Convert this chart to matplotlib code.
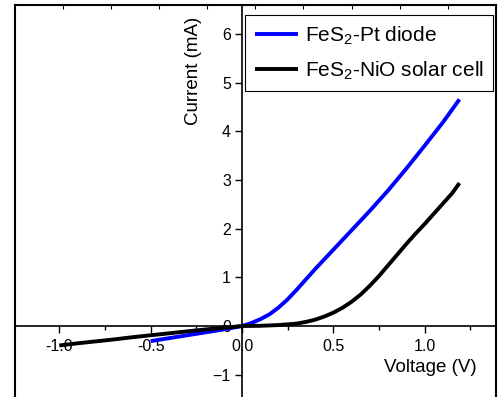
import matplotlib
matplotlib.use('Agg')
import matplotlib.pyplot as plt
from matplotlib.ticker import MultipleLocator, FormatStrFormatter

plt.rcParams['font.family'] = ['Liberation Sans', 'DejaVu Sans']
plt.rcParams['mathtext.fontset'] = 'custom'
plt.rcParams['mathtext.rm'] = 'Liberation Sans'

# FeS2-Pt diode
v_pt = [-0.5, -0.4, -0.3, -0.2, -0.1, 0.0, 0.05, 0.1, 0.15, 0.2, 0.25, 0.3,
        0.35, 0.4, 0.45, 0.5, 0.55, 0.6, 0.7, 0.75, 0.8, 0.9, 1.0, 1.1, 1.19]
i_pt = [-0.31, -0.25, -0.19, -0.13, -0.07, 0.0, 0.06, 0.14, 0.24, 0.38, 0.55, 0.75,
        0.96, 1.17, 1.37, 1.57, 1.77, 1.97, 2.37, 2.58, 2.79, 3.24, 3.71, 4.19, 4.66]

# FeS2-NiO solar cell
v_nio = [-1.0, -0.9, -0.8, -0.7, -0.6, -0.5, -0.4, -0.3, -0.2, -0.1, 0.0, 0.1, 0.2,
         0.3, 0.35, 0.4, 0.45, 0.5, 0.55, 0.6, 0.65, 0.7, 0.75, 0.8, 0.85, 0.9,
         0.95, 1.0, 1.05, 1.1, 1.15, 1.19]
i_nio = [-0.40, -0.355, -0.315, -0.275, -0.23, -0.19, -0.15, -0.11, -0.07, -0.035, 0.0,
         0.005, 0.02, 0.05, 0.085, 0.13, 0.195, 0.275, 0.375, 0.50, 0.65, 0.83, 1.03,
         1.25, 1.47, 1.69, 1.90, 2.10, 2.31, 2.52, 2.73, 2.94]

fig = plt.figure(figsize=(4.98, 3.97), dpi=100)
ax = fig.add_axes([14.5 / 498, -2 / 397, 481.5 / 498, 394 / 397])

ax.plot(v_pt, i_pt, color='#0000ff', lw=2.8, label='FeS$_\\mathregular{2}$-Pt diode', solid_capstyle='butt')
ax.plot(v_nio, i_nio, color='black', lw=2.8, label='FeS$_\\mathregular{2}$-NiO solar cell', solid_capstyle='butt')

ax.set_xlim(-1.245, 1.39)
ax.set_ylim(-1.5, 6.6)

for s in ['top', 'right']:
    ax.spines[s].set_visible(False)
ax.spines['left'].set_position(('data', 0))
ax.spines['bottom'].set_position(('data', 0))
ax.spines['left'].set_linewidth(1.2)
ax.spines['bottom'].set_linewidth(1.2)

ax.xaxis.set_major_locator(MultipleLocator(0.5))
ax.xaxis.set_minor_locator(MultipleLocator(0.25))
ax.xaxis.set_major_formatter(FormatStrFormatter('%.1f'))
ax.yaxis.set_major_locator(MultipleLocator(1))
ax.tick_params(axis='both', which='major', direction='out', length=5, width=1.0,
               labelsize=11.5, pad=3)
ax.tick_params(axis='x', which='major', pad=4)
ax.tick_params(axis='x', which='minor', direction='out', length=2.7, width=1.0)

# outer frame with small inward ticks on top
frame = ax.twiny()
frame.set_xlim(0, 10)
frame.set_xticks(range(1, 10))
frame.tick_params(axis='x', direction='in', length=3, width=0.8, labeltop=False, top=True, bottom=False)
for s in frame.spines.values():
    s.set_linewidth(1.5)
ax.xaxis.tick_bottom()

ax.text(0.371, 0.8325, 'Current (mA)', transform=ax.transAxes, rotation=90,
        ha='center', va='center', fontsize=13.5)
ax.text(0.863, 0.0787, 'Voltage (V)', transform=ax.transAxes,
        ha='center', va='center', fontsize=13.5)

leg = ax.legend(loc='upper right', bbox_to_anchor=(0.9938, 0.9746), borderaxespad=0,
                fancybox=False, edgecolor='black', framealpha=1, fontsize=15,
                handlelength=2.1, handletextpad=0.3, labelspacing=0.6, borderpad=0.45)
leg.get_frame().set_linewidth(0.8)
leg.set_zorder(5)

fig.savefig('out.png', dpi=100)
